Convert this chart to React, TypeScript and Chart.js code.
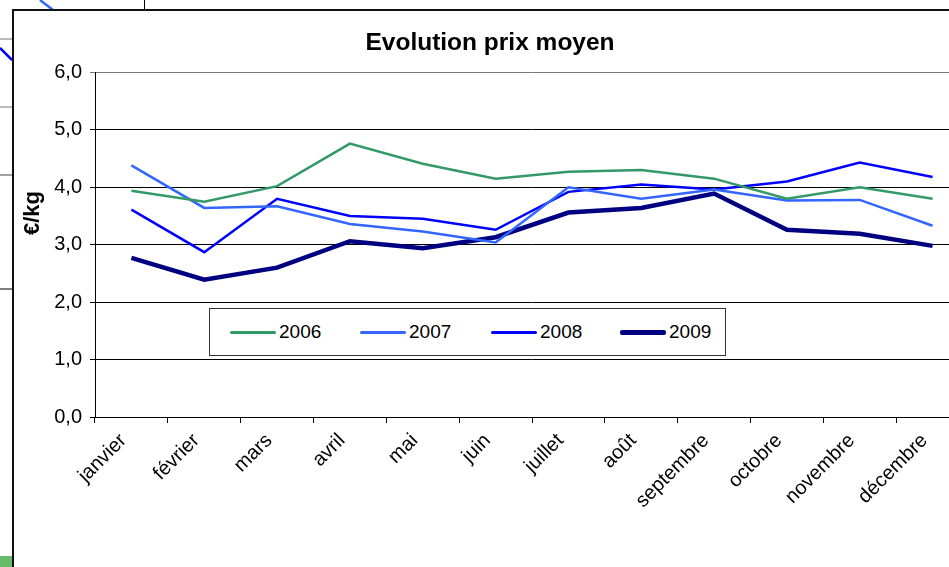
import React, { useEffect, useRef } from "react";
import { Chart, registerables } from "chart.js";

Chart.register(...registerables);

const months = ["janvier", "février", "mars", "avril", "mai", "juin", "juillet", "août", "septembre", "octobre", "novembre", "décembre"];
const s2006 = [3.94, 3.75, 4.02, 4.76, 4.41, 4.15, 4.27, 4.3, 4.15, 3.8, 4.0, 3.8];
const s2007 = [4.38, 3.64, 3.67, 3.36, 3.23, 3.04, 4.0, 3.8, 3.96, 3.77, 3.78, 3.33];
const s2008 = [3.61, 2.87, 3.8, 3.5, 3.45, 3.26, 3.92, 4.05, 3.96, 4.1, 4.43, 4.18];
const s2009 = [2.77, 2.39, 2.6, 3.06, 2.94, 3.13, 3.56, 3.64, 3.89, 3.26, 3.19, 2.98];
const seriesNames = ["2006", "2007", "2008", "2009"];
const seriesData = [s2006, s2007, s2008, s2009];
const seriesColors = ["#339966", "#3366FF", "#0000FF", "#000080"];
const seriesWidths = [2.5, 2.5, 2.5, 4.5];
const yMin = 0;
const yMax = 6;
const yStep = 1;
const chartTitle = "Evolution prix moyen";
const yTitle = "€/kg";

const FONT = "'Liberation Sans', Arial, sans-serif";

export default function App() {
  const ref = useRef<HTMLCanvasElement | null>(null);

  useEffect(() => {
    if (!ref.current) return;
    const chart = new Chart(ref.current, {
      type: "line",
      data: {
        labels: months,
        datasets: seriesNames.map((n, i) => ({
          label: n,
          data: seriesData[i],
          borderColor: seriesColors[i],
          backgroundColor: seriesColors[i],
          borderWidth: seriesWidths[i],
          pointRadius: 0,
          tension: 0,
          fill: false,
        })),
      },
      options: {
        responsive: false,
        animation: false,
        layout: { padding: { left: 6, right: 6, top: 0, bottom: 0 } },
        plugins: {
          legend: { display: false },
          tooltip: { enabled: false },
          title: {
            display: true,
            text: chartTitle,
            color: "#000",
            font: { family: FONT, size: 24.5, weight: "bold" },
            padding: { top: 18, bottom: 14 },
          },
        },
        scales: {
          x: {
            offset: true,
            grid: {
              offset: true,
              drawOnChartArea: false,
              drawTicks: true,
              tickLength: 6,
              color: "#000",
            },
            border: { display: true, color: "#000", width: 1 },
            ticks: {
              color: "#000",
              font: { family: FONT, size: 20 },
              minRotation: 45,
              maxRotation: 45,
              padding: 6,
              labelOffset: -8,
              autoSkip: false,
            },
            afterFit: (s: any) => {
              s.height = 150;
            },
          },
          y: {
            min: yMin,
            max: yMax,
            grid: {
              color: (c: any) => (c.tick && c.tick.value === yMax ? "#777" : "#000"),
              lineWidth: 1,
              tickLength: 5,
              drawTicks: true,
            },
            border: { display: true, color: "#000", width: 1 },
            ticks: {
              stepSize: yStep,
              color: "#000",
              padding: 8,
              font: { family: FONT, size: 20 },
              callback: (v: any) => Number(v).toFixed(1).replace(".", ","),
            },
            afterFit: (s: any) => {
              s.width = 84;
            },
          },
        },
      },
    });
    return () => chart.destroy();
  }, []);

  const legendLeft = [20, 150, 281, 410];

  return (
    <div
      style={{
        position: "fixed",
        left: 0,
        top: 0,
        width: 949,
        height: 567,
        overflow: "hidden",
        background: "#fff",
        fontFamily: FONT,
      }}
    >
      {/* fragments of a chart lying behind */}
      <svg width={949} height={567} style={{ position: "absolute", left: 0, top: 0 }}>
        <line x1={0} y1={39} x2={12} y2={39} stroke="#777" strokeWidth={1} />
        <line x1={0} y1={107} x2={12} y2={107} stroke="#777" strokeWidth={1} />
        <line x1={0} y1={175} x2={12} y2={175} stroke="#444" strokeWidth={1} />
        <line x1={0} y1={289} x2={12} y2={289} stroke="#000" strokeWidth={1} />
        <line x1={0} y1={48} x2={12} y2={60} stroke="#0000FF" strokeWidth={2.5} />
        <line x1={40} y1={0} x2={53} y2={10} stroke="#3366FF" strokeWidth={2.5} />
        <line x1={144.5} y1={0} x2={144.5} y2={9} stroke="#000" strokeWidth={1} />
        <rect x={0} y={556} width={12} height={11} fill="#66bb6a" />
      </svg>
      <div
        style={{
          position: "absolute",
          left: 12,
          top: 9,
          width: 1000,
          height: 600,
          borderLeft: "2px solid #111",
          borderTop: "2px solid #111",
          background: "#fff",
        }}
      />
      <canvas
        ref={ref}
        width={970}
        height={556}
        style={{ position: "absolute", left: 5, top: 11, width: 970, height: 556 }}
      />
      <div
        style={{
          position: "absolute",
          left: 32,
          top: 213,
          transform: "translate(-50%, -50%) rotate(-90deg)",
          fontWeight: "bold",
          fontSize: 22,
          color: "#000",
          whiteSpace: "nowrap",
        }}
      >
        {yTitle}
      </div>
      <div
        style={{
          position: "absolute",
          left: 209,
          top: 308,
          width: 517,
          height: 48,
          border: "1px solid #333",
          background: "#fff",
          boxSizing: "border-box",
        }}
      >
        {seriesNames.map((n, i) => (
          <div
            key={n}
            style={{
              position: "absolute",
              left: legendLeft[i],
              top: 0,
              height: 46,
              display: "flex",
              alignItems: "center",
            }}
          >
            <div
              style={{
                width: 46,
                height: seriesWidths[i] > 3 ? 5 : 3,
                background: seriesColors[i],
                borderRadius: 2,
              }}
            />
            <span style={{ fontSize: 19, marginLeft: 3, color: "#000" }}>{n}</span>
          </div>
        ))}
      </div>
    </div>
  );
}
